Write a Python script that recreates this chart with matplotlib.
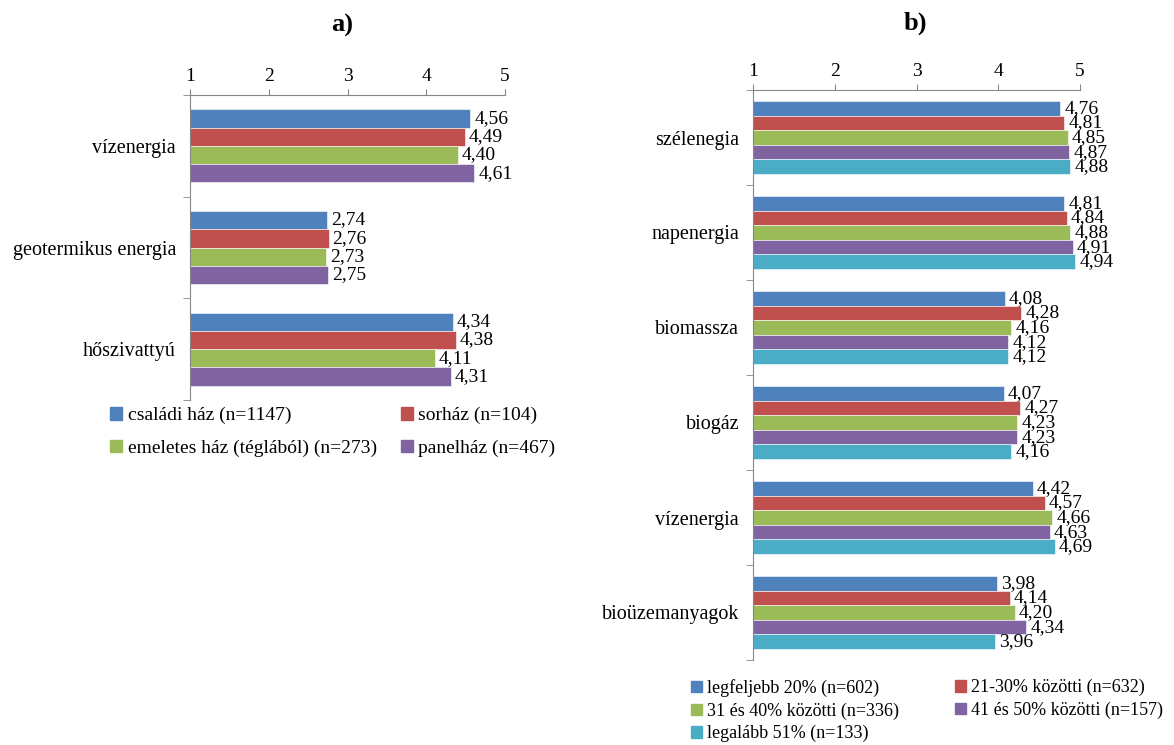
import numpy as np
import matplotlib.pyplot as plt
from matplotlib.patches import Patch

plt.rcParams['font.family'] = ['Liberation Serif', 'DejaVu Serif']

colors = ['#4F81BD', '#C0504D', '#9BBB59', '#8064A2', '#4BACC6']

# a) panel: house types
cats_a = ['vízenergia', 'geotermikus energia', 'hőszivattyú']
series_a = ['családi ház (n=1147)', 'sorház (n=104)',
            'emeletes ház (téglából) (n=273)', 'panelház (n=467)']
vals_a = [
    [4.56, 2.74, 4.34],
    [4.49, 2.76, 4.38],
    [4.40, 2.73, 4.11],
    [4.61, 2.75, 4.31],
]

# b) panel: share groups
cats_b = ['szélenegia', 'napenergia', 'biomassza', 'biogáz', 'vízenergia',
          'bioüzemanyagok']
series_b = ['legfeljebb 20% (n=602)', '21-30% közötti (n=632)',
            '31 és 40% közötti (n=336)', '41 és 50% közötti (n=157)',
            'legalább 51% (n=133)']
vals_b = [
    [4.76, 4.81, 4.08, 4.07, 4.42, 3.98],
    [4.81, 4.84, 4.28, 4.27, 4.57, 4.14],
    [4.85, 4.88, 4.16, 4.23, 4.66, 4.20],
    [4.87, 4.91, 4.12, 4.23, 4.63, 4.34],
    [4.88, 4.94, 4.12, 4.16, 4.69, 3.96],
]

W, H = 1174, 745
fig = plt.figure(figsize=(W / 100, H / 100), dpi=100)


def draw(ax, cats, vals, bar_h):
    n = len(vals)
    y = np.arange(len(cats))
    for i, v in enumerate(vals):
        pos = y - bar_h * n / 2 + bar_h * (i + 0.5)
        ax.barh(pos, np.array(v) - 1, left=1, height=bar_h, color=colors[i],
                edgecolor='white', linewidth=0.4)
        for p, val in zip(pos, v):
            ax.text(val + 0.05, p, f'{val:.2f}'.replace('.', ','),
                    va='center', ha='left', fontsize=14)
    ax.set_xlim(1, 5)
    ax.set_ylim(len(cats) - 0.5, -0.5)
    ax.xaxis.tick_top()
    ax.set_xticks([1, 2, 3, 4, 5])
    ax.tick_params(axis='x', direction='out', length=4, color='#868686',
                   labelsize=14, pad=3)
    ax.set_yticks(y)
    ax.set_yticklabels(cats)
    ax.tick_params(axis='y', length=0, labelsize=14.5, pad=10)
    ax.set_yticks(np.arange(len(cats) + 1) - 0.5, minor=True)
    ax.tick_params(axis='y', which='minor', direction='out', length=5,
                   color='#868686')
    for s in ['right', 'bottom']:
        ax.spines[s].set_visible(False)
    for s in ['top', 'left']:
        ax.spines[s].set_color('#868686')


ax_a = fig.add_axes([190 / W, 1 - 400 / H, 315 / W, 305 / H])
draw(ax_a, cats_a, vals_a, 0.18)

ax_b = fig.add_axes([753 / W, 1 - 660 / H, 327 / W, 570 / H])
draw(ax_b, cats_b, vals_b, 0.154)

fig.text(342 / W, 1 - 25 / H, 'a)', fontsize=19, fontweight='bold',
         ha='center', va='center')
fig.text(915 / W, 1 - 23 / H, 'b)', fontsize=19, fontweight='bold',
         ha='center', va='center')


def legend_col(labels, cidx, x, y, size, spacing):
    handles = [Patch(color=colors[i]) for i in cidx]
    fig.legend(handles, labels, loc='upper left',
               bbox_to_anchor=(x / W, 1 - y / H), frameon=False,
               fontsize=size, handlelength=0.6, handleheight=0.6,
               handletextpad=0.3, labelspacing=spacing, borderpad=0,
               borderaxespad=0)


legend_col([series_a[0], series_a[2]], [0, 2], 110, 407, 14, 0.8)
legend_col([series_a[1], series_a[3]], [1, 3], 401, 407, 14, 0.8)
legend_col([series_b[0], series_b[2], series_b[4]], [0, 2, 4], 691, 679,
           13, 0.3)
legend_col([series_b[1], series_b[3]], [1, 3], 955, 679, 13, 0.3)

fig.savefig('out.png', dpi=100)
